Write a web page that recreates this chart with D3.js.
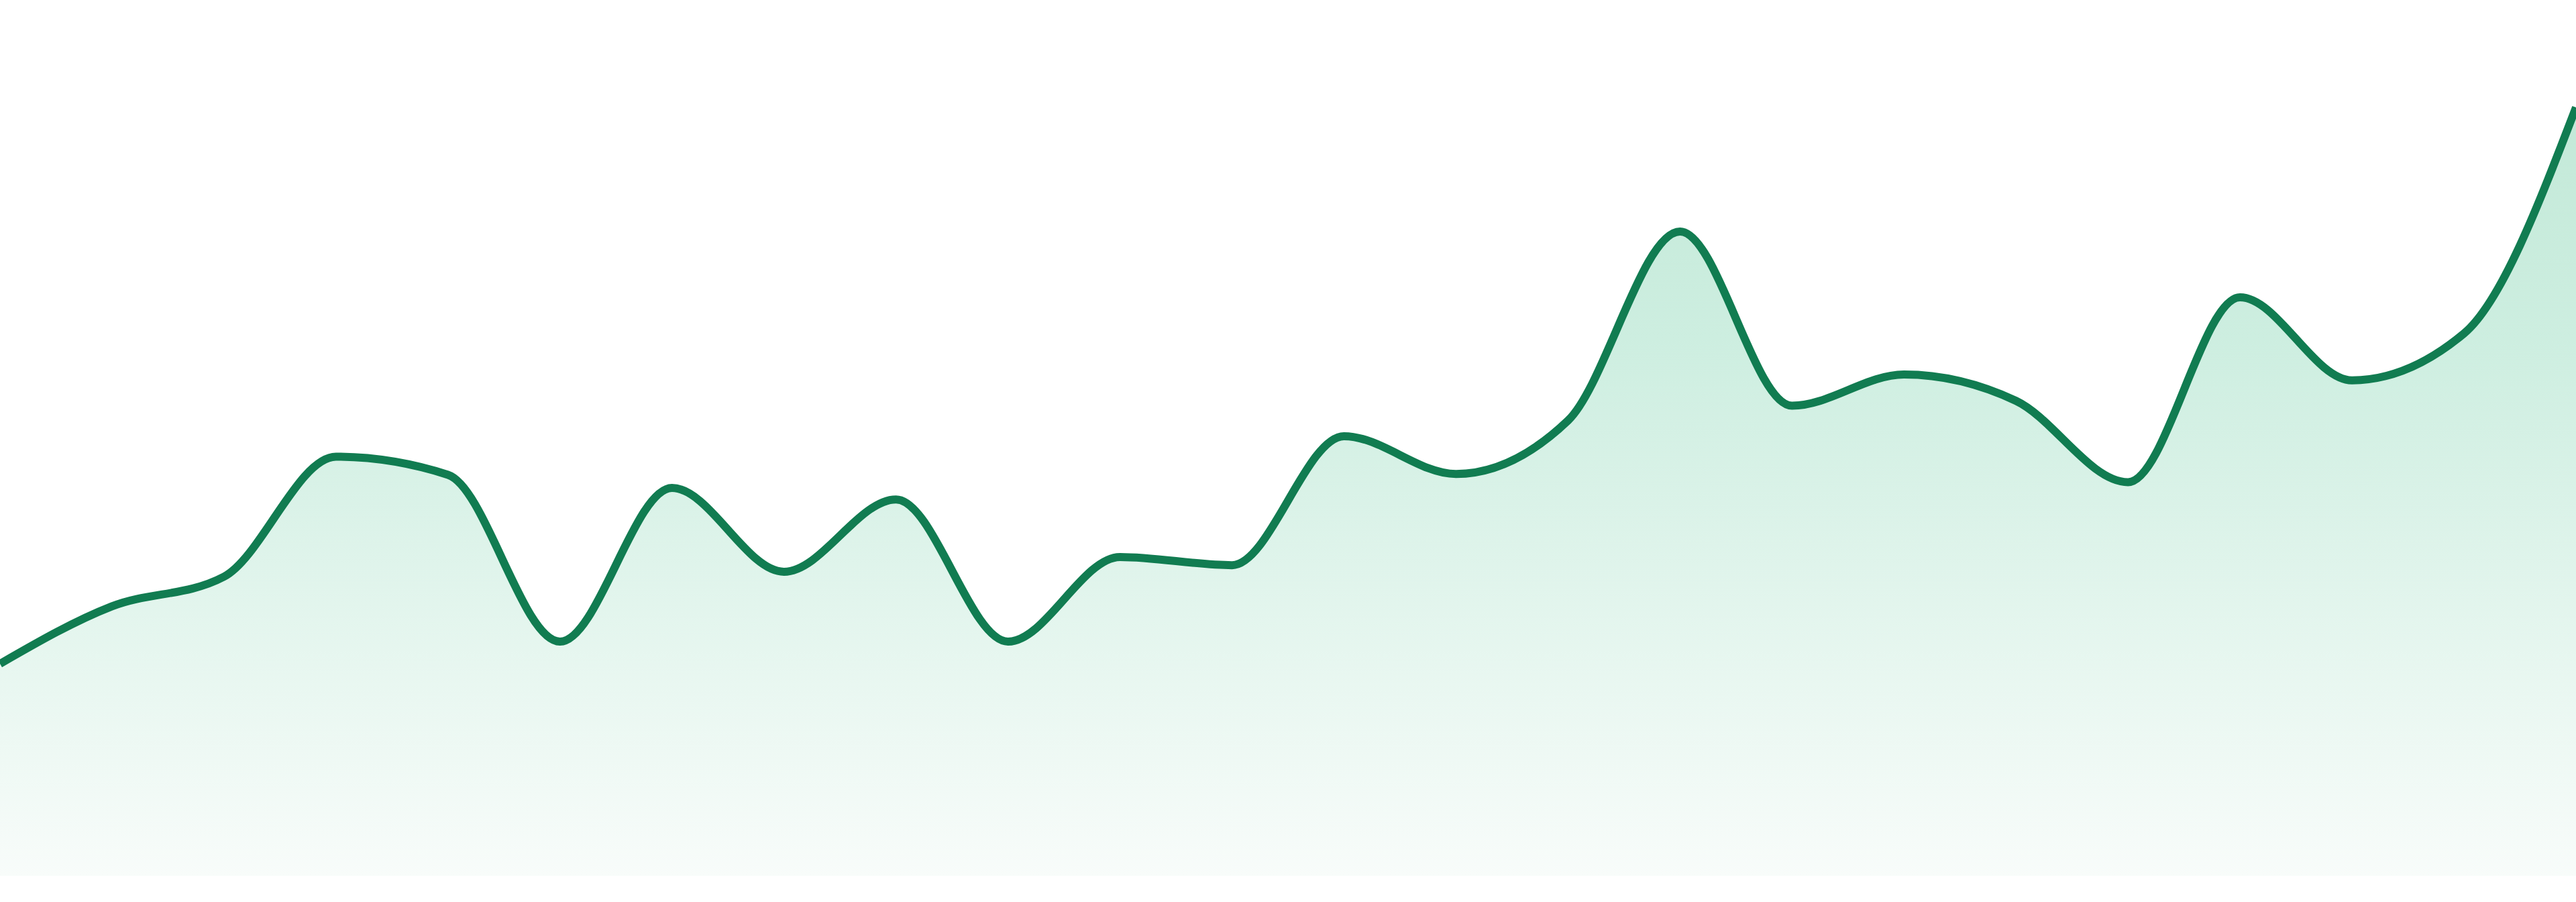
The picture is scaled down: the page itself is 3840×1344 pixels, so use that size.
<!DOCTYPE html>
<html>
<head>
<meta charset="utf-8">
<script src="https://cdn.jsdelivr.net/npm/d3@7"></script>
<style>
  html, body { margin: 0; padding: 0; background: #ffffff; overflow: hidden; }
  svg { display: block; }
</style>
</head>
<body>
<div id="chart"></div>
<script>
// one value per step
const steps = d3.range(24)
const values = [129, 164, 182, 255, 244, 142.5, 236, 185, 229, 142.5, 194, 189,
  267.5, 244.5, 277, 392, 286, 305, 289, 239.5, 352, 301.5, 330, 467.5]

const width = 3840
const height = 1344
const baseline = 1305

const svg = d3
  .select('#chart')
  .append('svg')
  .attr('width', width)
  .attr('height', height)
  .attr('viewBox', `0 0 ${width} ${height}`)

const xPositionScale = d3
  .scaleLinear()
  .domain([0, steps.length - 1])
  .range([0, width])

const yPositionScale = d3
  .scaleLinear()
  .domain([0, 500])
  .range([baseline, baseline - 500 * 2.449])

// soft mint fill fading toward the bottom
const defs = svg.append('defs')
const grad = defs
  .append('linearGradient')
  .attr('id', 'area-fill')
  .attr('gradientUnits', 'userSpaceOnUse')
  .attr('x1', 0)
  .attr('x2', 0)
  .attr('y1', yPositionScale(d3.max(values)))
  .attr('y2', yPositionScale(0))

grad.append('stop').attr('offset', '0%').attr('stop-color', '#c3e9d8')
grad.append('stop').attr('offset', '30%').attr('stop-color', '#cdeee0')
grad.append('stop').attr('offset', '100%').attr('stop-color', '#f8fcfa')

const area = d3
  .area()
  .x((d, i) => xPositionScale(steps[i]))
  .y0(yPositionScale(0))
  .y1(d => yPositionScale(d))
  .curve(d3.curveMonotoneX)

const line = d3
  .line()
  .x((d, i) => xPositionScale(steps[i]))
  .y(d => yPositionScale(d))
  .curve(d3.curveMonotoneX)

svg
  .append('path')
  .datum(values)
  .attr('class', 'area')
  .attr('d', area)
  .attr('fill', 'url(#area-fill)')

svg
  .append('path')
  .datum(values)
  .attr('class', 'line')
  .attr('d', line)
  .attr('fill', 'none')
  .attr('stroke', '#117c51')
  .attr('stroke-width', 12)
  .attr('stroke-linejoin', 'round')
</script>
</body>
</html>
